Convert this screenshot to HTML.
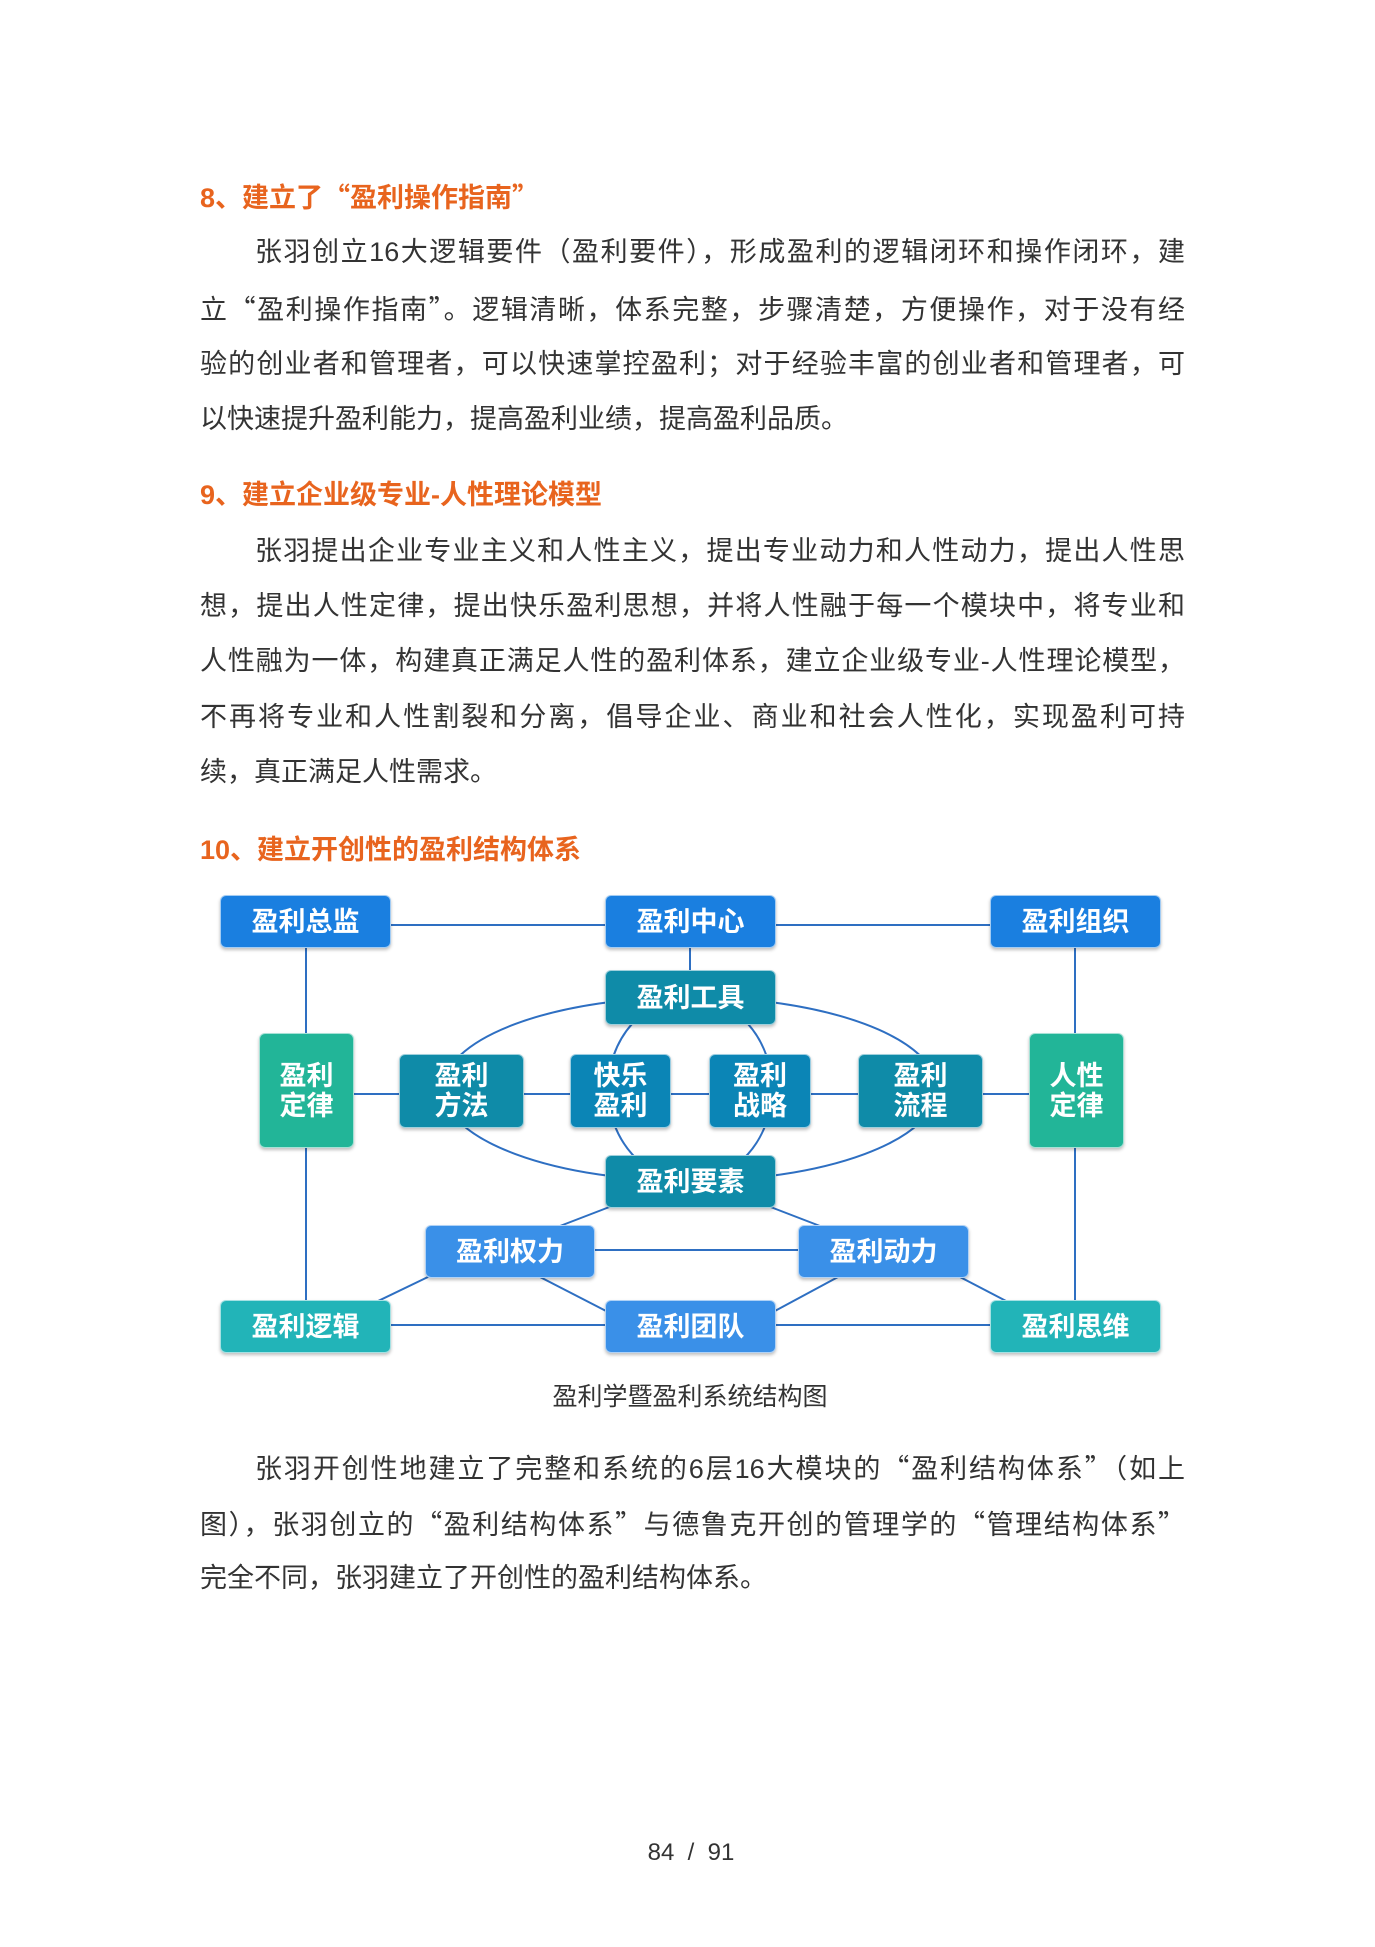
<!DOCTYPE html>
<html><head><meta charset="utf-8"><style>
body{margin:0;width:1375px;height:1947px;background:#fff;position:relative;overflow:hidden;font-family:"Liberation Sans","Noto Sans CJK SC",sans-serif;}
.l{position:absolute;left:200px;width:985px;font-size:27px;color:#333;line-height:34px;white-space:nowrap;}
.j{text-align:justify;text-align-last:justify;}
.h{position:absolute;left:200px;font-size:27px;color:#e8641e;font-weight:bold;line-height:34px;}
.q{font-family:"Noto Sans CJK SC",sans-serif;}
.b{position:absolute;color:#fff;font-weight:bold;font-size:27px;display:flex;align-items:center;justify-content:center;text-align:center;line-height:30px;border-radius:6px;box-shadow:0 2px 3px rgba(0,0,0,.25);border:1px solid rgba(255,255,255,.6);box-sizing:border-box;}
.bl{background:#1a7fe0}.tl{background:#0f8ba8}.db{background:#0b85b6}.gr{background:#22b598}.lb{background:#3a90e8}.tq{background:#22b4b8}
</style></head><body>
<div class="h" style="top:179px">8、建立了<span class="q">“</span>盈利操作指南<span class="q">”</span></div>
<div class="l j" style="top:235px;padding-left:55px;width:930px">张羽创立16大逻辑要件（盈利要件），形成盈利的逻辑闭环和操作闭环，建</div>
<div class="l j" style="top:291px">立<span class="q">“</span>盈利操作指南<span class="q">”</span>。逻辑清晰，体系完整，步骤清楚，方便操作，对于没有经</div>
<div class="l j" style="top:347px">验的创业者和管理者，可以快速掌控盈利；对于经验丰富的创业者和管理者，可</div>
<div class="l" style="top:402px">以快速提升盈利能力，提高盈利业绩，提高盈利品质。</div>
<div class="h" style="top:478px">9、建立企业级专业-人性理论模型</div>
<div class="l j" style="top:534px;padding-left:55px;width:930px">张羽提出企业专业主义和人性主义，提出专业动力和人性动力，提出人性思</div>
<div class="l j" style="top:589px">想，提出人性定律，提出快乐盈利思想，并将人性融于每一个模块中，将专业和</div>
<div class="l j" style="top:644px">人性融为一体，构建真正满足人性的盈利体系，建立企业级专业-人性理论模型，</div>
<div class="l j" style="top:700px">不再将专业和人性割裂和分离，倡导企业、商业和社会人性化，实现盈利可持</div>
<div class="l" style="top:755px">续，真正满足人性需求。</div>
<div class="h" style="top:833px">10、建立开创性的盈利结构体系</div>

<svg style="position:absolute;left:0;top:0" width="1375" height="1947">
<g stroke="#2e6fc2" stroke-width="2" fill="none">
<line x1="391" y1="925" x2="990" y2="925"/>
<line x1="690" y1="948" x2="690" y2="970"/>
<line x1="306" y1="948" x2="306" y2="1300"/>
<line x1="1075" y1="948" x2="1075" y2="1300"/>
<line x1="354" y1="1094" x2="1029" y2="1094"/>
<line x1="391" y1="1325" x2="990" y2="1325"/>
<line x1="595" y1="1250" x2="798" y2="1250"/>
<ellipse cx="690" cy="1089" rx="247" ry="92"/>
<ellipse cx="690" cy="1089" rx="82" ry="92"/>
<line x1="612" y1="1206" x2="560" y2="1226"/>
<line x1="768" y1="1206" x2="820" y2="1226"/>
<line x1="430" y1="1276" x2="376" y2="1302"/>
<line x1="540" y1="1277" x2="608" y2="1312"/>
<line x1="838" y1="1277" x2="773" y2="1312"/>
<line x1="960" y1="1277" x2="1008" y2="1302"/>
</g></svg>

<div class="b bl" style="left:220px;top:895px;width:171px;height:53px">盈利总监</div>
<div class="b bl" style="left:605px;top:895px;width:171px;height:53px">盈利中心</div>
<div class="b bl" style="left:990px;top:895px;width:171px;height:53px">盈利组织</div>
<div class="b tl" style="left:605px;top:970px;width:171px;height:55px">盈利工具</div>
<div class="b gr" style="left:259px;top:1033px;width:95px;height:115px">盈利<br>定律</div>
<div class="b gr" style="left:1029px;top:1033px;width:95px;height:115px">人性<br>定律</div>
<div class="b tl" style="left:399px;top:1054px;width:125px;height:74px">盈利<br>方法</div>
<div class="b db" style="left:570px;top:1054px;width:101px;height:74px">快乐<br>盈利</div>
<div class="b db" style="left:709px;top:1054px;width:102px;height:74px">盈利<br>战略</div>
<div class="b tl" style="left:858px;top:1054px;width:125px;height:74px">盈利<br>流程</div>
<div class="b tl" style="left:605px;top:1155px;width:171px;height:53px">盈利要素</div>
<div class="b lb" style="left:425px;top:1225px;width:170px;height:53px">盈利权力</div>
<div class="b lb" style="left:798px;top:1225px;width:171px;height:53px">盈利动力</div>
<div class="b tq" style="left:220px;top:1300px;width:171px;height:53px">盈利逻辑</div>
<div class="b lb" style="left:605px;top:1300px;width:171px;height:53px">盈利团队</div>
<div class="b tq" style="left:990px;top:1300px;width:171px;height:53px">盈利思维</div>

<div style="position:absolute;top:1380px;left:0;width:1380px;text-align:center;font-size:25px;color:#333;line-height:34px">盈利学暨盈利系统结构图</div>
<div class="l j" style="top:1450px;padding-left:55px;width:930px">张羽开创性地建立了完整和系统的6层16大模块的<span class="q">“</span>盈利结构体系<span class="q">”</span>（如上</div>
<div class="l j" style="top:1506px">图），张羽创立的<span class="q">“</span>盈利结构体系<span class="q">”</span>与德鲁克开创的管理学的<span class="q">“</span>管理结构体系<span class="q">”</span></div>
<div class="l" style="top:1561px">完全不同，张羽建立了开创性的盈利结构体系。</div>
<div style="position:absolute;top:1839px;left:0;width:1382px;text-align:center;font-size:24px;color:#333">84&nbsp;&nbsp;/&nbsp;&nbsp;91</div>
</body></html>
